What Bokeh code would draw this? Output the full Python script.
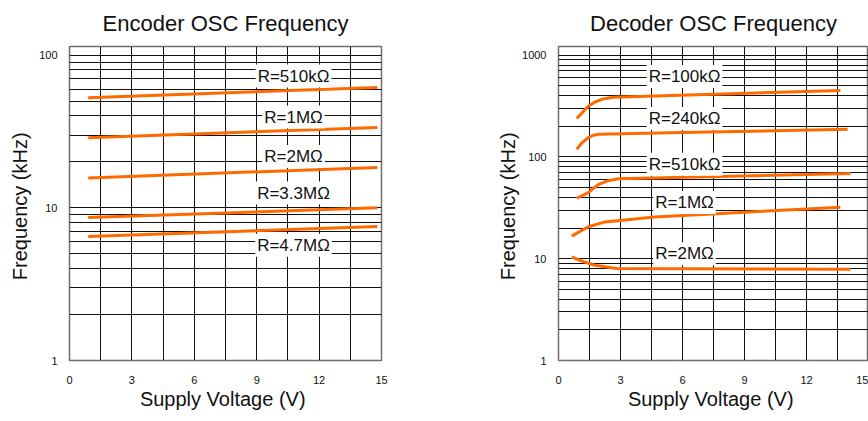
from bokeh.plotting import figure
from bokeh.models import Range1d, FixedTicker, Label
from bokeh.layouts import row
from bokeh.embed import file_html
from bokeh.resources import INLINE

# ---------------- data ----------------
x_major_ticks = [0, 3, 6, 9, 12, 15]
x_minor_ticks = [1.5, 4.5, 7.5, 10.5, 13.5]
enc_y_ticks = [1, 10, 100]
enc_y_tick_labels = ["1", "10", "100"]
dec_y_ticks = [1, 10, 100, 1000]
dec_y_tick_labels = ["1", "10", "100", "1000"]

# Encoder OSC frequency (kHz) vs supply voltage (V)
enc_names = ["R=510kΩ", "R=1MΩ", "R=2MΩ", "R=3.3MΩ", "R=4.7MΩ"]
enc_v = [0.9, 14.8]
enc_510k = [52.7, 61.5]
enc_1M = [28.8, 33.6]
enc_2M = [15.7, 18.4]
enc_3M3 = [8.63, 10.0]
enc_4M7 = [6.49, 7.56]
enc_label_v = 10.77
enc_label_f = [73.0, 39.3, 21.7, 12.5, 5.69]

# Decoder OSC frequency (kHz) vs supply voltage (V)
dec_names = ["R=100kΩ", "R=240kΩ", "R=510kΩ", "R=1MΩ", "R=2MΩ"]
dec_100k_v = [0.885, 1.12, 1.44, 1.77, 2.09, 2.65, 13.64]
dec_100k_f = [239, 269, 315, 347, 369, 387, 450]
dec_240k_v = [0.885, 1.12, 1.44, 1.68, 1.92, 6.0, 13.99]
dec_240k_f = [119, 137, 155, 163, 167, 174, 187]
dec_510k_v = [0.885, 1.44, 1.92, 2.41, 2.89, 14.12]
dec_510k_f = [39.3, 44.6, 53.5, 58.5, 61.1, 68.7]
dec_1M_v = [0.64, 1.44, 2.25, 4.65, 9.0, 13.64]
dec_1M_f = [16.7, 20.6, 23.0, 25.7, 28.7, 32.0]
dec_2M_v = [0.64, 1.2, 1.77, 2.81, 14.12]
dec_2M_f = [10.4, 9.36, 8.62, 8.02, 7.89]
dec_label_v = 6.1
dec_label_f = [618, 239, 85, 35.7, 11.2]

# ---------------- style ----------------
FONT = "Liberation Sans"
ORANGE = "#FF6A00"
GRID = "#111111"


def make_fig(title, width, border_left, border_right, y_end, yticks, ylabels, label_standoff):
    p = figure(width=width, height=420, y_axis_type="log",
               x_range=Range1d(0, 15), y_range=Range1d(1, y_end),
               output_backend="svg", toolbar_location=None,
               min_border_left=border_left, min_border_right=border_right,
               min_border_top=46, min_border_bottom=60)
    p.title.text = title
    p.title.align = "center"
    p.title.vertical_align = "top"
    p.title.text_font = FONT
    p.title.text_font_size = "22px"
    p.title.text_font_style = "normal"
    p.title.text_color = "#111111"
    p.title.standoff = 18

    p.xaxis.ticker = FixedTicker(ticks=x_major_ticks, minor_ticks=x_minor_ticks)
    n_dec = len(yticks) - 1
    minor_y = [m * 10 ** d for d in range(n_dec) for m in range(2, 10)]
    p.yaxis.ticker = FixedTicker(ticks=yticks, minor_ticks=minor_y)
    p.yaxis.major_label_overrides = dict(zip(yticks, ylabels))

    for ax in (p.xaxis, p.yaxis):
        ax.axis_line_color = None
        ax.major_tick_line_color = None
        ax.minor_tick_line_color = None
        ax.major_label_text_font = FONT
        ax.major_label_text_font_size = "11px"
        ax.major_label_text_color = "#111111"
        ax.axis_label_text_font = FONT
        ax.axis_label_text_font_size = "20px"
        ax.axis_label_text_font_style = "normal"
        ax.axis_label_text_color = "#111111"
    p.xaxis.axis_label = "Supply Voltage  (V)"
    p.yaxis.axis_label = "Frequency  (kHz)"
    p.xaxis.major_label_standoff = 9
    p.xaxis.axis_label_standoff = 1
    p.yaxis.major_label_standoff = 6
    p.yaxis.axis_label_standoff = label_standoff

    for g in (p.xgrid, p.ygrid):
        g.grid_line_color = GRID
        g.grid_line_width = 1
        g.minor_grid_line_color = GRID
        g.minor_grid_line_width = 1

    p.outline_line_color = "#6e6e6e"
    p.outline_line_width = 1.5
    p.background_fill_color = "white"
    p.border_fill_color = "white"
    return p


def add_label(p, text, x, y):
    p.add_layout(Label(x=x, y=y, text=text, text_align="center", text_baseline="middle",
                       text_font=FONT, text_font_size="17px", text_color="#111111",
                       background_fill_color="white", background_fill_alpha=1.0,
                       padding=2))


p1 = make_fig("Encoder OSC Frequency", 434, 69, 53, 114, enc_y_ticks, enc_y_tick_labels, 5)
for f in (enc_510k, enc_1M, enc_2M, enc_3M3, enc_4M7):
    p1.line(enc_v, f, line_color=ORANGE, line_width=3)
for name, fy in zip(enc_names, enc_label_f):
    add_label(p1, name, enc_label_v, fy)

p2 = make_fig("Decoder OSC Frequency", 434, 124, 0, 1218, dec_y_ticks, dec_y_tick_labels, 0)
for vv, ff in ((dec_100k_v, dec_100k_f), (dec_240k_v, dec_240k_f), (dec_510k_v, dec_510k_f),
               (dec_1M_v, dec_1M_f), (dec_2M_v, dec_2M_f)):
    p2.line(vv, ff, line_color=ORANGE, line_width=3)
for name, fy in zip(dec_names, dec_label_f):
    add_label(p2, name, dec_label_v, fy)

layout = row(p1, p2)
open("out.html", "w").write(file_html(layout, INLINE))
